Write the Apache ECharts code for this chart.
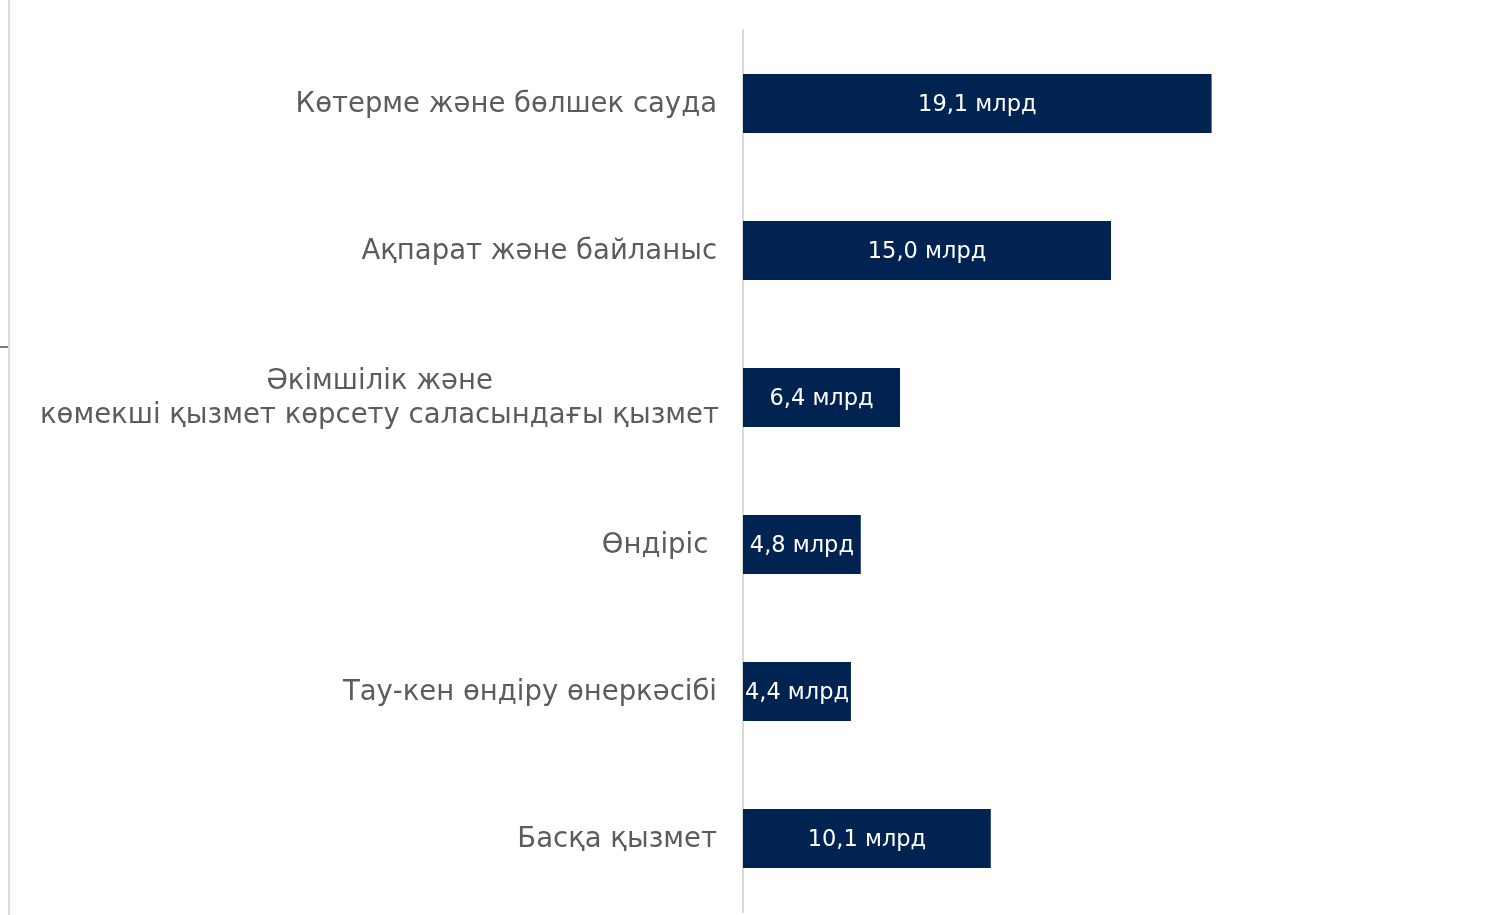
<!DOCTYPE html>
<html><head><meta charset="utf-8">
<script src="https://cdn.jsdelivr.net/npm/echarts@6/dist/echarts.min.js"></script>
<style>html,body{margin:0;padding:0;background:#fff}#c{width:1486px;height:915px}</style>
</head><body><div id="c"></div>
<script>
const categories = [
  'Көтерме және бөлшек сауда',
  'Ақпарат және байланыс',
  'Әкімшілік және\nкөмекші қызмет көрсету саласындағы қызмет',
  'Өндіріс ',
  'Тау-кен өндіру өнеркәсібі',
  'Басқа қызмет'
];
const values = [19.1, 15.0, 6.4, 4.8, 4.4, 10.1];
const valueLabels = ['19,1 млрд', '15,0 млрд', '6,4 млрд', '4,8 млрд', '4,4 млрд', '10,1 млрд'];

const FONT = 'DejaVu Sans';
const chart = echarts.init(document.getElementById('c'), null, {renderer: 'canvas'});
chart.setOption({
  animation: false,
  backgroundColor: '#fff',
  grid: {left: 743, right: 7, top: 30, bottom: 3, containLabel: false},
  xAxis: {type: 'value', min: 0, max: 30, show: false},
  yAxis: {
    type: 'category', inverse: true, data: categories,
    axisLine: {show: true, lineStyle: {color: '#d9d9d9', width: 2}},
    axisTick: {show: false},
    splitLine: {show: false},
    axisLabel: {
      margin: 26, color: '#5c5c5c', fontFamily: FONT, fontSize: 27.5, lineHeight: 34,
      padding: [3, 0, 0, 0],
      formatter: function (v) {
        if (v.indexOf('\n') >= 0) {
          return v.split('\n').map(s => '{m|' + s + '}').join('\n');
        }
        return v;
      },
      rich: {m: {width: 675, align: 'center', color: '#5c5c5c', fontFamily: FONT, fontSize: 27.5, lineHeight: 34}}
    }
  },
  series: [{
    type: 'bar', data: values, barWidth: 59,
    itemStyle: {color: '#002352'},
    label: {
      show: true, position: 'inside', color: '#fff', fontFamily: FONT, fontSize: 22.5,
      offset: [0, 2],
      formatter: p => valueLabels[p.dataIndex]
    }
  }],
  graphic: [
    {type: 'line', shape: {x1: 9, y1: 0, x2: 9, y2: 915}, style: {stroke: '#dcdcdc', lineWidth: 2}},
    {type: 'line', shape: {x1: 0, y1: 347, x2: 8, y2: 347}, style: {stroke: '#3a5070', lineWidth: 1.5}}
  ]
});
</script></body></html>
